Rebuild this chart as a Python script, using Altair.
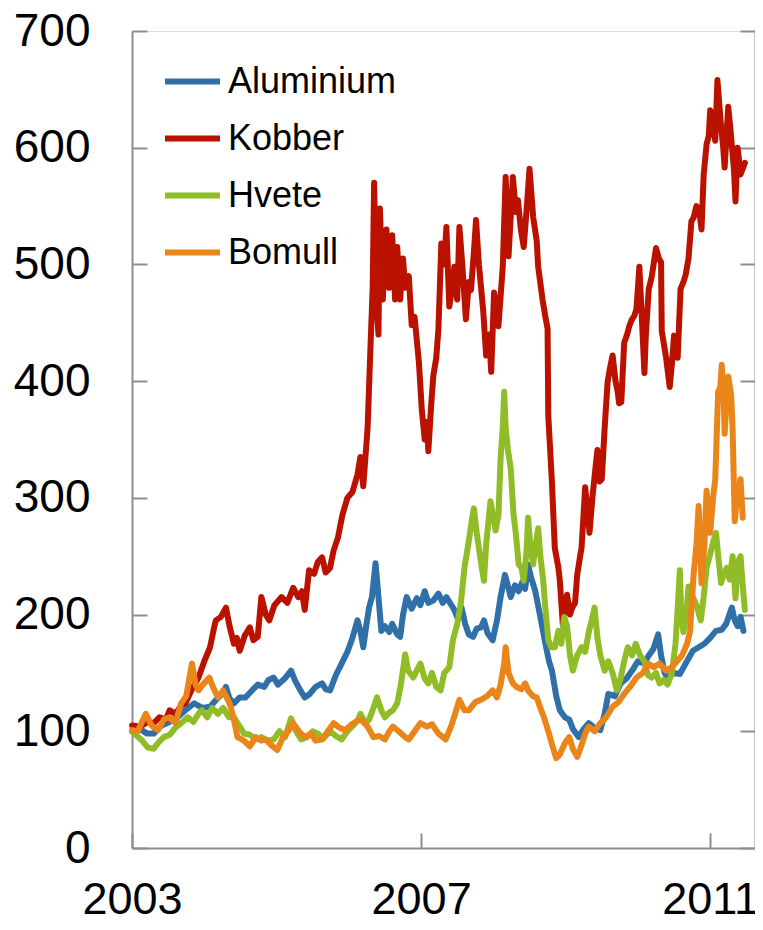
import altair as alt
import pandas as pd

series_names = ["Aluminium", "Kobber", "Hvete", "Bomull"]
series_colors = ["#3070A8", "#BB1200", "#90BC28", "#E98519"]

x_ticks = [2003, 2007, 2011]
y_ticks = [0, 100, 200, 300, 400, 500, 600, 700]

# Aluminium
al_t = [2003.00, 2003.11, 2003.21, 2003.30, 2003.41, 2003.52, 2003.63, 2003.74, 2003.86, 2003.97,
        2004.08, 2004.18, 2004.26, 2004.30, 2004.35, 2004.41, 2004.49, 2004.57, 2004.66, 2004.74,
        2004.83, 2004.89, 2004.96, 2005.02, 2005.11, 2005.20, 2005.26, 2005.33, 2005.39, 2005.46,
        2005.54, 2005.63, 2005.68, 2005.74, 2005.82, 2005.90, 2005.98, 2006.05, 2006.12, 2006.16,
        2006.20, 2006.24, 2006.28, 2006.32, 2006.37, 2006.41, 2006.45, 2006.50, 2006.56, 2006.60,
        2006.67, 2006.71, 2006.75, 2006.80, 2006.87, 2006.94, 2006.99, 2007.05, 2007.10, 2007.17,
        2007.24, 2007.30, 2007.35, 2007.42, 2007.46, 2007.51, 2007.56, 2007.61, 2007.66, 2007.72,
        2007.77, 2007.83, 2007.87, 2007.92, 2007.99, 2008.05, 2008.10, 2008.16, 2008.20, 2008.24,
        2008.30, 2008.35, 2008.40, 2008.44, 2008.48, 2008.52, 2008.58, 2008.65, 2008.72, 2008.77,
        2008.81, 2008.87, 2008.92, 2008.99, 2009.05, 2009.10, 2009.18, 2009.25, 2009.32, 2009.40,
        2009.48, 2009.54, 2009.59, 2009.68, 2009.76, 2009.84, 2009.92, 2010.00, 2010.09, 2010.14,
        2010.21, 2010.28, 2010.32, 2010.37, 2010.41, 2010.50, 2010.58, 2010.66, 2010.76, 2010.84,
        2010.92, 2011.00, 2011.08, 2011.16, 2011.22, 2011.30, 2011.34, 2011.38, 2011.42, 2011.46]
al_v = [100, 102, 98, 98, 105, 108, 112, 118, 124, 120,
        121, 128, 133, 138, 128, 124, 129, 129, 135, 140,
        138, 144, 146, 140, 145, 152, 143, 135, 129, 132,
        138, 141, 136, 135, 148, 158, 168, 180, 195, 186,
        172, 190, 206, 215, 244, 215, 186, 190, 185, 192,
        183, 181, 200, 215, 205, 214, 208, 220, 210, 212,
        218, 210, 215, 208, 204, 196, 206, 192, 183, 181,
        188, 189, 195, 184, 178, 195, 215, 234, 225, 215,
        225, 220, 228, 222, 243, 232, 220, 198, 175, 160,
        152, 130, 118, 112, 110, 102, 95, 102, 107, 103,
        101, 115, 132, 130, 141, 145, 152, 160, 158, 164,
        170, 183, 165, 150, 146, 150, 149, 158, 169, 172,
        175, 180, 186, 187, 192, 206, 195, 190, 198, 186]

# Kobber
cu_t = [2003.00, 2003.11, 2003.22, 2003.30, 2003.38, 2003.47, 2003.52, 2003.60, 2003.68, 2003.74,
        2003.82, 2003.92, 2004.00, 2004.08, 2004.14, 2004.16, 2004.23, 2004.30, 2004.35, 2004.41,
        2004.45, 2004.49, 2004.56, 2004.63, 2004.68, 2004.74, 2004.79, 2004.85, 2004.90, 2004.97,
        2005.07, 2005.15, 2005.23, 2005.30, 2005.35, 2005.39, 2005.45, 2005.52, 2005.57, 2005.63,
        2005.68, 2005.74, 2005.79, 2005.85, 2005.91, 2005.98, 2006.05, 2006.12, 2006.16, 2006.20,
        2006.26, 2006.30, 2006.33, 2006.35, 2006.38, 2006.41, 2006.43, 2006.47, 2006.52, 2006.56,
        2006.60, 2006.64, 2006.67, 2006.71, 2006.75, 2006.78, 2006.83, 2006.87, 2006.91, 2006.97,
        2007.01, 2007.05, 2007.08, 2007.10, 2007.14, 2007.17, 2007.21, 2007.24, 2007.28, 2007.32,
        2007.35, 2007.39, 2007.43, 2007.46, 2007.50, 2007.53, 2007.57, 2007.62, 2007.66, 2007.69,
        2007.73, 2007.76, 2007.80, 2007.86, 2007.90, 2007.94, 2007.97, 2008.01, 2008.05, 2008.07,
        2008.13, 2008.17, 2008.21, 2008.27, 2008.31, 2008.34, 2008.38, 2008.42, 2008.47, 2008.50,
        2008.55, 2008.60, 2008.62, 2008.68, 2008.72, 2008.75, 2008.76, 2008.81, 2008.85, 2008.90,
        2008.92, 2008.96, 2008.99, 2009.02, 2009.06, 2009.09, 2009.13, 2009.16, 2009.20, 2009.22,
        2009.27, 2009.31, 2009.33, 2009.37, 2009.42, 2009.44, 2009.47, 2009.50, 2009.54, 2009.58,
        2009.61, 2009.65, 2009.69, 2009.72, 2009.74, 2009.77, 2009.81, 2009.85, 2009.88, 2009.91,
        2009.95, 2009.98, 2010.02, 2010.05, 2010.09, 2010.11, 2010.15, 2010.19, 2010.25, 2010.29,
        2010.32, 2010.33, 2010.39, 2010.41, 2010.44, 2010.47, 2010.50, 2010.55, 2010.59, 2010.63,
        2010.66, 2010.70, 2010.74, 2010.77, 2010.81, 2010.85, 2010.88, 2010.91, 2010.95, 2010.98,
        2011.00, 2011.04, 2011.07, 2011.10, 2011.14, 2011.18, 2011.20, 2011.25, 2011.29, 2011.33,
        2011.35, 2011.38, 2011.42, 2011.48]
cu_v = [105, 104, 108, 107, 112, 110, 118, 115, 122, 124,
        135, 146, 160, 172, 190, 195, 198, 206, 190, 175,
        180, 169, 182, 189, 178, 181, 215, 200, 195, 208,
        215, 210, 223, 215, 220, 204, 238, 235, 245, 249,
        236, 240, 255, 266, 285, 300, 305, 320, 335, 310,
        360, 430, 480, 570, 470, 440, 548, 470, 530, 480,
        525, 470, 515, 470, 505, 480, 490, 448, 455, 416,
        375, 350, 365, 340, 380, 405, 420, 445, 518, 500,
        532, 464, 480, 498, 470, 532, 500, 453, 485, 478,
        510, 538, 500, 460, 422, 440, 408, 476, 460, 447,
        498, 575, 507, 575, 545, 555, 530, 515, 555, 582,
        541, 520, 498, 470, 455, 445, 370, 314, 257, 240,
        229, 192, 205, 217, 200, 206, 210, 234, 250, 257,
        309, 285, 270, 300, 330, 341, 314, 316, 360, 399,
        410, 422, 400, 391, 381, 382, 433, 440, 447, 452,
        456, 462, 498, 460, 407, 440, 479, 489, 514, 505,
        502, 443, 420, 410, 395, 415, 439, 420, 479, 485,
        491, 505, 537, 540, 550, 545, 530, 577, 603, 610,
        632, 618, 606, 658, 626, 600, 583, 635, 609, 580,
        554, 600, 577, 587]

# Hvete
wh_t = [2003.00, 2003.07, 2003.14, 2003.22, 2003.30, 2003.36, 2003.44, 2003.52, 2003.60, 2003.68,
        2003.77, 2003.85, 2003.92, 2003.97, 2004.04, 2004.11, 2004.19, 2004.26, 2004.34, 2004.41,
        2004.48, 2004.55, 2004.63, 2004.71, 2004.79, 2004.87, 2004.96, 2005.04, 2005.12, 2005.20,
        2005.27, 2005.34, 2005.42, 2005.50, 2005.57, 2005.65, 2005.74, 2005.82, 2005.90, 2005.98,
        2006.06, 2006.13, 2006.16, 2006.23, 2006.28, 2006.34, 2006.39, 2006.45, 2006.50, 2006.56,
        2006.61, 2006.67, 2006.72, 2006.78, 2006.82, 2006.89, 2006.94, 2006.99, 2007.05, 2007.10,
        2007.15, 2007.21, 2007.27, 2007.32, 2007.39, 2007.44, 2007.50, 2007.55, 2007.60, 2007.66,
        2007.70, 2007.73, 2007.77, 2007.80, 2007.84, 2007.87, 2007.90, 2007.96, 2008.01, 2008.03,
        2008.07, 2008.10, 2008.13, 2008.15, 2008.17, 2008.20, 2008.24, 2008.28, 2008.31, 2008.35,
        2008.39, 2008.42, 2008.46, 2008.48, 2008.51, 2008.55, 2008.58, 2008.62, 2008.65, 2008.69,
        2008.72, 2008.76, 2008.80, 2008.85, 2008.90, 2008.94, 2008.98, 2009.02, 2009.06, 2009.10,
        2009.16, 2009.22, 2009.27, 2009.32, 2009.36, 2009.40, 2009.44, 2009.48, 2009.54, 2009.59,
        2009.65, 2009.71, 2009.76, 2009.81, 2009.86, 2009.92, 2009.97, 2010.03, 2010.09, 2010.14,
        2010.19, 2010.25, 2010.30, 2010.36, 2010.41, 2010.47, 2010.52, 2010.55, 2010.58, 2010.60,
        2010.63, 2010.67, 2010.70, 2010.76, 2010.81, 2010.87, 2010.91, 2010.95, 2011.00, 2011.04,
        2011.08, 2011.12, 2011.15, 2011.19, 2011.23, 2011.27, 2011.31, 2011.35, 2011.38, 2011.42,
        2011.45, 2011.48]
wh_v = [100, 96, 92, 86, 85, 90, 95, 97, 103, 107,
        112, 108, 115, 118, 112, 120, 115, 120, 112, 112,
        105, 98, 97, 93, 95, 92, 93, 100, 95, 111,
        100, 93, 95, 100, 98, 94, 100, 96, 93, 100,
        105, 110, 115, 107, 110, 120, 129, 118, 112, 116,
        118, 124, 140, 166, 152, 146, 152, 158, 145, 141,
        150, 138, 135, 150, 155, 178, 192, 210, 240, 263,
        280, 291, 270, 257, 240, 229, 260, 297, 280, 272,
        285, 334, 360, 391, 360, 342, 325, 285, 270, 243,
        240, 229, 255, 283, 260, 243, 258, 274, 250, 229,
        205, 178, 172, 172, 186, 175, 198, 190, 165, 152,
        165, 172, 168, 185, 195, 206, 180, 165, 152, 160,
        150, 135, 145, 160, 172, 165, 175, 165, 160, 148,
        146, 150, 141, 144, 140, 150, 175, 205, 238, 200,
        185, 200, 224, 215, 208, 195, 215, 240, 252, 262,
        270, 245, 227, 235, 240, 230, 250, 214, 245, 250,
        225, 204]

# Bomull
co_t = [2003.00, 2003.08, 2003.19, 2003.27, 2003.36, 2003.44, 2003.52, 2003.60, 2003.68, 2003.75,
        2003.83, 2003.88, 2003.92, 2003.98, 2004.07, 2004.12, 2004.19, 2004.26, 2004.35, 2004.41,
        2004.46, 2004.55, 2004.63, 2004.71, 2004.79, 2004.85, 2004.93, 2005.01, 2005.09, 2005.16,
        2005.23, 2005.31, 2005.39, 2005.48, 2005.54, 2005.63, 2005.71, 2005.79, 2005.87, 2005.95,
        2006.04, 2006.12, 2006.17, 2006.26, 2006.34, 2006.42, 2006.50, 2006.56, 2006.61, 2006.69,
        2006.78, 2006.83, 2006.91, 2006.99, 2007.08, 2007.15, 2007.24, 2007.34, 2007.42, 2007.47,
        2007.53, 2007.60, 2007.66, 2007.75, 2007.83, 2007.91, 2007.99, 2008.05, 2008.10, 2008.15,
        2008.17, 2008.21, 2008.27, 2008.32, 2008.39, 2008.44, 2008.48, 2008.55, 2008.60, 2008.65,
        2008.70, 2008.76, 2008.81, 2008.87, 2008.92, 2008.99, 2009.05, 2009.10, 2009.16, 2009.22,
        2009.27, 2009.32, 2009.40, 2009.48, 2009.56, 2009.65, 2009.73, 2009.81, 2009.89, 2009.98,
        2010.07, 2010.14, 2010.22, 2010.30, 2010.39, 2010.47, 2010.54, 2010.61, 2010.68, 2010.72,
        2010.77, 2010.81, 2010.84, 2010.88, 2010.92, 2010.95, 2011.00, 2011.04, 2011.07, 2011.11,
        2011.14, 2011.16, 2011.19, 2011.20, 2011.25, 2011.29, 2011.31, 2011.34, 2011.37, 2011.42,
        2011.45]
co_v = [101, 100, 115, 105, 101, 110, 112, 107, 124, 130,
        158, 140, 135, 140, 146, 138, 129, 135, 124, 110,
        95, 92, 87, 95, 92, 93, 88, 84, 95, 100,
        107, 100, 95, 98, 92, 93, 100, 107, 103, 101,
        106, 109, 110, 104, 95, 96, 93, 100, 104, 100,
        95, 93, 100, 107, 104, 106, 98, 93, 105, 115,
        127, 118, 118, 125, 127, 130, 135, 129, 140, 158,
        172, 150, 141, 138, 136, 141, 135, 130, 129, 120,
        112, 100, 89, 77, 80, 90, 95, 85, 78, 88,
        98, 104, 100, 107, 112, 121, 125, 132, 138, 146,
        150, 158, 155, 158, 152, 155, 160, 165, 175, 185,
        234, 260, 293, 227, 260, 306, 270, 300, 316, 391,
        395, 414, 380, 355, 404, 388, 360, 280, 300, 316,
        283]

rows = []
for name, ts, vs in [("Aluminium", al_t, al_v), ("Kobber", cu_t, cu_v),
                     ("Hvete", wh_t, wh_v), ("Bomull", co_t, co_v)]:
    for t, v in zip(ts, vs):
        rows.append({"year": t, "value": v, "series": name})
df = pd.DataFrame(rows)

axis_color = "#8E8E8E"
font = "Liberation Sans"

x_enc = alt.X(
    "year:Q",
    scale=alt.Scale(domain=[2003, 2011.62], nice=False, zero=False),
    axis=alt.Axis(values=x_ticks, format="d", title=None, grid=False,
                  tickSize={"expr": "-15"}, labelPadding=44, labelFontSize=45,
                  labelFont=font, labelColor="#000000", domainColor=axis_color,
                  tickColor=axis_color, domainWidth=2, tickWidth=2,
                  labelFlush=False, labelOverlap=False),
)

lines = alt.Chart(df).mark_line(strokeWidth=6, strokeJoin="round", strokeCap="round").encode(
    x=x_enc,
    y=alt.Y("value:Q", scale=alt.Scale(domain=[0, 700], nice=False),
            axis=alt.Axis(values=y_ticks, title=None, grid=False,
                          tickSize={"expr": "-15"}, labelPadding=57, labelFontSize=46,
                          labelFont=font, labelColor="#000000", domainColor=axis_color,
                          tickColor=axis_color, domainWidth=2, tickWidth=2,
                          labelFlush=False, labelOverlap=False)),
    color=alt.Color("series:N",
                    scale=alt.Scale(domain=series_names, range=series_colors),
                    legend=alt.Legend(orient="none", legendX=30, legendY=20, title=None,
                                      symbolType="stroke", symbolSize=3025,
                                      symbolStrokeWidth=6, labelFontSize=36,
                                      labelFont=font, labelColor="#000000",
                                      labelOffset=5, rowPadding=8, padding=0,
                                      labelLimit=0)),
)

right = alt.Chart(df).mark_line(opacity=0).encode(
    x=x_enc,
    y=alt.Y("value:Q", scale=alt.Scale(domain=[0, 700], nice=False),
            axis=alt.Axis(orient="right", values=y_ticks, title=None, grid=False,
                          labels=False, tickSize={"expr": "-15"},
                          domainColor=axis_color, tickColor=axis_color,
                          domainWidth=2, tickWidth=2)),
    detail="series:N",
)

chart = alt.layer(lines, right).resolve_axis(y="independent").properties(
    width=623, height=817,
    autosize=alt.AutoSizeParams(type="none"),
    padding={"left": 124, "top": 23, "right": 0, "bottom": 74},
).configure_view(stroke=axis_color, strokeWidth=2).configure(background="white")

chart.save("out.html", embed_options={"renderer": "svg", "actions": False})
